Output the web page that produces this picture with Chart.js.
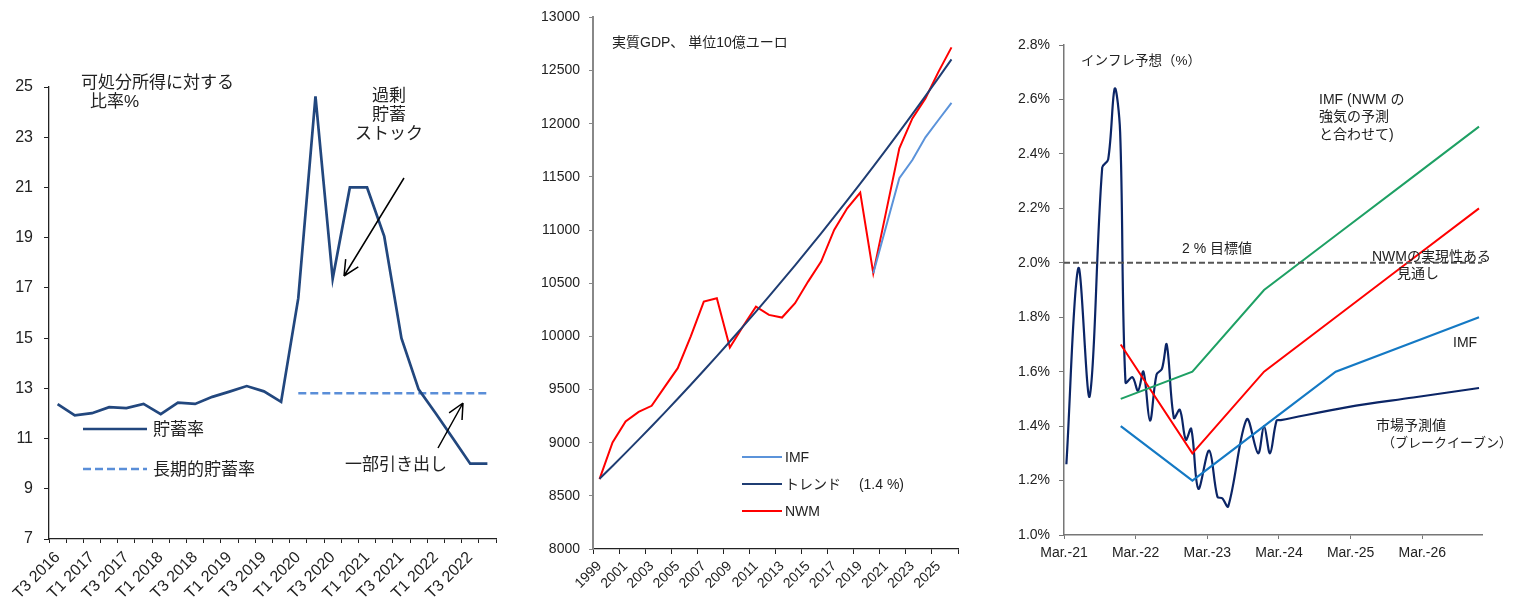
<!DOCTYPE html>
<html>
<head>
<meta charset="utf-8">
<script src="https://cdn.jsdelivr.net/npm/chart.js@4.4.1/dist/chart.umd.min.js"></script>
<style>
	body { margin: 0; background: #fff; }
	#wrap { position: relative; width: 1523px; height: 603px; }
	canvas { position: absolute; top: 0; }
</style>
</head>
<body>
<div id="wrap">
	<canvas id="savings" width="510" height="603" style="left:0"></canvas>
	<canvas id="gdp" width="460" height="603" style="left:520px"></canvas>
	<canvas id="inflation" width="533" height="603" style="left:990px"></canvas>
</div>
<script>
// Savings rate panel - quarterly
const quarters = ['T3 2016', 'T4 2016', 'T1 2017', 'T2 2017', 'T3 2017', 'T4 2017',
	'T1 2018', 'T2 2018', 'T3 2018', 'T4 2018', 'T1 2019', 'T2 2019', 'T3 2019', 'T4 2019',
	'T1 2020', 'T2 2020', 'T3 2020', 'T4 2020', 'T1 2021', 'T2 2021', 'T3 2021', 'T4 2021',
	'T1 2022', 'T2 2022', 'T3 2022', 'T4 2022']
const savingsRate = [12.37, 11.92, 12.01, 12.25, 12.21, 12.38, 11.97, 12.43, 12.38, 12.66,
	12.87, 13.09, 12.88, 12.46, 16.59, 24.63, 17.36, 21.0, 21.0, 19.05, 15.0, 12.96, 12.0,
	11.0, 10.0, 10.0]
const longTermRate = [null, null, null, null, null, null, null, null, null, null, null, null,
	null, null, 12.8, 12.8, 12.8, 12.8, 12.8, 12.8, 12.8, 12.8, 12.8, 12.8, 12.8, 12.8]

// GDP panel - yearly, billions of euro
const years = ['1999', '2000', '2001', '2002', '2003', '2004', '2005', '2006', '2007', '2008',
	'2009', '2010', '2011', '2012', '2013', '2014', '2015', '2016', '2017', '2018', '2019',
	'2020', '2021', '2022', '2023', '2024', '2025', '2026']
const gdpImf = [null, null, null, null, null, null, null, null, null, null, null, null, null,
	null, null, null, null, null, null, null, null, 10594, 11041, 11487, 11659, 11872, 12035, 12197]
const gdpTrend = [8660, 8781, 8904, 9029, 9155, 9283, 9413, 9545, 9679, 9814, 9952, 10091,
	10232, 10376, 10521, 10668, 10818, 10969, 11123, 11279, 11437, 11597, 11759, 11924, 12091,
	12260, 12431, 12605]
const gdpNwm = [8658, 9002, 9199, 9290, 9347, 9525, 9701, 10000, 10327, 10359, 9895, 10092,
	10280, 10202, 10177, 10312, 10515, 10703, 11001, 11205, 11353, 10594, 11180, 11769, 12050,
	12238, 12488, 12718]

// Inflation panel - months counted from March 2021
const inflTickMonths = [0, 12, 24, 36, 48, 60]
const inflTickLabels = ['Mar.-21', 'Mar.-22', 'Mar.-23', 'Mar.-24', 'Mar.-25', 'Mar.-26']
const breakevenMonths = [0.4, 2.4, 4.3, 6.4, 7.4, 8.5, 9.4, 10.3, 11.45, 12.4, 13.3, 14.4,
	15.5, 16.4, 17.2, 18.4, 19.4, 20.4, 21.3, 22.5, 24.3, 25.7, 26.5, 27.5, 30.6, 32.5, 33.5,
	34.5, 35.6, 36.3, 47.5, 58.5, 69.5]
const breakevenValues = [1.26, 1.98, 1.51, 2.35, 2.38, 2.64, 2.48, 1.56, 1.58, 1.53, 1.6, 1.42,
	1.59, 1.61, 1.70, 1.43, 1.46, 1.35, 1.39, 1.17, 1.31, 1.14, 1.135, 1.105, 1.425, 1.30, 1.40,
	1.30, 1.42, 1.422, 1.47, 1.505, 1.54]
const forecastMonths = [9.5, 21.5, 33.5, 45.5, 57.5, 69.5]
const imfStrong = [1.5, 1.6, 1.9, 2.1, 2.3, 2.5]
const nwmRealistic = [1.7, 1.3, 1.6, 1.8, 2.0, 2.2]
const imfBase = [1.4, 1.2, 1.4, 1.6, 1.7, 1.8]
const targetMonths = [0, 70]
const targetValues = [2.0, 2.0]

const FONT = '"Liberation Sans", "Noto Sans CJK JP", sans-serif'
Chart.defaults.font.family = FONT
Chart.defaults.color = '#222'

function xy(xs, ys) {
	return xs.map((x, i) => ({ x: x, y: ys[i] }))
}

// Text, legend keys and arrows drawn on top of a chart
function notesPlugin(spec) {
	return {
		id: 'notes',
		afterDatasetsDraw(chart) {
			const ctx = chart.ctx
			ctx.save()
			ctx.fillStyle = '#222'
			ctx.textBaseline = 'middle'
			;(spec.texts || []).forEach(t => {
				ctx.font = t.size + 'px ' + FONT
				ctx.textAlign = t.align || 'left'
				ctx.fillText(t.text, t.x, t.y)
			})
			;(spec.keys || []).forEach(k => {
				const ds = chart.data.datasets[k.dataset]
				ctx.strokeStyle = ds.borderColor
				ctx.lineWidth = ds.borderWidth
				ctx.setLineDash(ds.borderDash || [])
				ctx.beginPath()
				ctx.moveTo(k.x1, k.y)
				ctx.lineTo(k.x2, k.y)
				ctx.stroke()
				ctx.setLineDash([])
				ctx.font = k.size + 'px ' + FONT
				ctx.textAlign = 'left'
				ctx.fillText(k.text || ds.label, k.tx, k.y + 1)
			})
			;(spec.arrows || []).forEach(a => {
				const ang = Math.atan2(a.y2 - a.y1, a.x2 - a.x1)
				ctx.strokeStyle = '#000'
				ctx.lineWidth = 1.5
				ctx.beginPath()
				ctx.moveTo(a.x1, a.y1)
				ctx.lineTo(a.x2, a.y2)
				;[-1, 1].forEach(s => {
					ctx.moveTo(a.x2, a.y2)
					ctx.lineTo(a.x2 - 17 * Math.cos(ang + s * 0.45), a.y2 - 17 * Math.sin(ang + s * 0.45))
				})
				ctx.stroke()
			})
			ctx.restore()
		}
	}
}

const noTips = { legend: { display: false }, tooltip: { enabled: false } }

// Panel 1 - savings rate
new Chart(document.getElementById('savings'), {
	type: 'line',
	data: {
		labels: quarters,
		datasets: [
			{ label: '貯蓄率', data: savingsRate, borderColor: '#22477e', borderWidth: 2.7, pointRadius: 0, tension: 0 },
			{ label: '長期的貯蓄率', data: longTermRate, borderColor: '#5a8ed8', borderWidth: 2.5, borderDash: [8, 4], pointRadius: 0 }
		]
	},
	options: {
		responsive: false,
		animation: false,
		layout: { padding: { top: 87, right: 14, left: 0, bottom: 0 } },
		plugins: noTips,
		scales: {
			x: {
				offset: true,
				grid: { offset: true, drawOnChartArea: false, tickLength: 4, tickColor: '#222' },
				border: { color: '#222', width: 1.3 },
				ticks: {
					autoSkip: false, maxRotation: 45, minRotation: 45, padding: 5,
					font: { size: 16 }, color: '#222',
					callback: (v, i) => i % 2 === 0 ? quarters[i] : ''
				},
				afterFit: s => { s.height = 64 }
			},
			y: {
				min: 7, max: 25,
				grid: { drawOnChartArea: false, tickLength: 5, tickColor: '#222' },
				border: { color: '#222', width: 1.3 },
				ticks: { stepSize: 2, padding: 11, font: { size: 16 }, color: '#222' },
				afterFit: s => { s.width = 49 }
			}
		}
	},
	plugins: [notesPlugin({
		texts: [
			{ text: '可処分所得に対する', x: 81, y: 83, size: 17 },
			{ text: '比率%', x: 90, y: 102, size: 17 },
			{ text: '過剰', x: 389, y: 96, size: 17, align: 'center' },
			{ text: '貯蓄', x: 389, y: 115, size: 17, align: 'center' },
			{ text: 'ストック', x: 389, y: 134, size: 17, align: 'center' },
			{ text: '一部引き出し', x: 345, y: 465, size: 17 }
		],
		keys: [
			{ dataset: 0, x1: 83, x2: 147, y: 429, tx: 153, size: 17 },
			{ dataset: 1, x1: 83, x2: 147, y: 469, tx: 153, size: 17 }
		],
		arrows: [
			{ x1: 404, y1: 178, x2: 344, y2: 276 },
			{ x1: 438, y1: 448, x2: 463, y2: 403 }
		]
	})]
})

// Panel 2 - real GDP
new Chart(document.getElementById('gdp'), {
	type: 'line',
	data: {
		labels: years,
		datasets: [
			{ label: 'IMF', data: gdpImf, borderColor: '#5b93da', borderWidth: 2, pointRadius: 0 },
			{ label: 'トレンド　 (1.4 %)', data: gdpTrend, borderColor: '#1f3d73', borderWidth: 2, pointRadius: 0 },
			{ label: 'NWM', data: gdpNwm, borderColor: '#ff0000', borderWidth: 2, pointRadius: 0 }
		]
	},
	options: {
		responsive: false,
		animation: false,
		layout: { padding: { top: 17, right: 22, left: 0, bottom: 0 } },
		plugins: noTips,
		scales: {
			x: {
				offset: true,
				grid: {
					offset: true, drawOnChartArea: false, tickLength: 5,
					tickColor: c => (c.index === undefined || c.index % 2 === 0) ? '#222' : 'rgba(0,0,0,0)'
				},
				border: { color: '#222', width: 1.3 },
				ticks: {
					autoSkip: false, maxRotation: 45, minRotation: 45, padding: 4,
					font: { size: 14 }, color: '#222',
					callback: (v, i) => i % 2 === 0 ? years[i] : ''
				},
				afterFit: s => { s.height = 54 }
			},
			y: {
				min: 8000, max: 13000,
				grid: { drawOnChartArea: false, tickLength: 4, tickColor: '#888' },
				border: { color: '#888', width: 2 },
				ticks: { stepSize: 500, padding: 9, font: { size: 14 }, color: '#222', callback: v => String(v) },
				afterFit: s => { s.width = 73 }
			}
		}
	},
	plugins: [notesPlugin({
		texts: [
			{ text: '実質GDP、 単位10億ユーロ', x: 92, y: 43, size: 14 }
		],
		keys: [
			{ dataset: 0, x1: 222, x2: 262, y: 457, tx: 265, size: 14 },
			{ dataset: 1, x1: 222, x2: 262, y: 484, tx: 265, size: 14 },
			{ dataset: 2, x1: 222, x2: 262, y: 511, tx: 265, size: 14 }
		]
	})]
})

// Panel 3 - inflation expectations
new Chart(document.getElementById('inflation'), {
	type: 'line',
	data: {
		datasets: [
			{ label: '2 % 目標値', data: xy(targetMonths, targetValues), borderColor: '#555', borderWidth: 2, borderDash: [6, 3], pointRadius: 0 },
			{ label: 'IMF (NWM の強気の予測と合わせて)', data: xy(forecastMonths, imfStrong), borderColor: '#1ea064', borderWidth: 2, pointRadius: 0 },
			{ label: 'NWMの実現性ある見通し', data: xy(forecastMonths, nwmRealistic), borderColor: '#ff0000', borderWidth: 2, pointRadius: 0 },
			{ label: 'IMF', data: xy(forecastMonths, imfBase), borderColor: '#1479c4', borderWidth: 2.2, pointRadius: 0 },
			{ label: '市場予測値（ブレークイーブン）', data: xy(breakevenMonths, breakevenValues), borderColor: '#0b2566', borderWidth: 2.2, pointRadius: 0, tension: 0.35 }
		]
	},
	options: {
		responsive: false,
		animation: false,
		layout: { padding: { top: 45, right: 41, left: 0, bottom: 0 } },
		plugins: noTips,
		scales: {
			x: {
				type: 'linear', min: 0, max: 70,
				afterBuildTicks: s => { s.ticks = inflTickMonths.map(v => ({ value: v })) },
				grid: { drawOnChartArea: false, tickLength: 4, tickColor: '#777' },
				border: { color: '#777', width: 1.5 },
				ticks: {
					maxRotation: 0, padding: 6, font: { size: 14 }, color: '#222',
					callback: (v, i) => inflTickLabels[i]
				},
				afterFit: s => { s.height = 68 }
			},
			y: {
				min: 1.0, max: 2.8,
				grid: { drawOnChartArea: false, tickLength: 5, tickColor: '#777' },
				border: { color: '#777', width: 1.5 },
				ticks: { stepSize: 0.2, padding: 9, font: { size: 14 }, color: '#222', callback: v => v.toFixed(1) + '%' },
				afterFit: s => { s.width = 74 }
			}
		}
	},
	plugins: [notesPlugin({
		texts: [
			{ text: 'インフレ予想（%）', x: 91, y: 61, size: 13.5 },
			{ text: '2 % 目標値', x: 192, y: 249, size: 14 },
			{ text: 'IMF (NWM の', x: 329, y: 100, size: 14 },
			{ text: '強気の予測', x: 329, y: 117, size: 14 },
			{ text: 'と合わせて)', x: 329, y: 135, size: 14 },
			{ text: 'NWMの実現性ある', x: 382, y: 257, size: 14 },
			{ text: '見通し', x: 407, y: 274, size: 14 },
			{ text: 'IMF', x: 463, y: 343, size: 14 },
			{ text: '市場予測値', x: 386, y: 426, size: 14 },
			{ text: '（ブレークイーブン）', x: 392, y: 443, size: 13 }
		]
	})]
})
</script>
</body>
</html>
